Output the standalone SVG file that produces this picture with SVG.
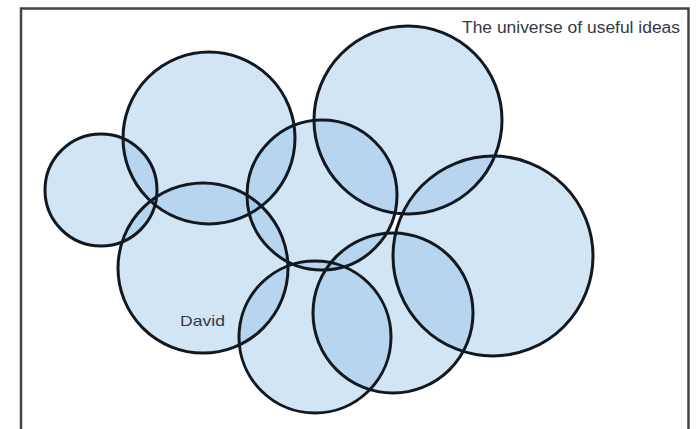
<svg xmlns="http://www.w3.org/2000/svg" width="699" height="429" viewBox="0 0 699 429">
<style>
.c{fill:#8fbfe6;fill-opacity:0.4;stroke:none}
.o{fill:none;stroke:#111820;stroke-width:3}
.t{font-family:"Liberation Sans",Arial,sans-serif;fill:#333a45}
</style>
<defs>
<circle id="c1" cx="101" cy="190" r="56"/>
<circle id="c2" cx="209" cy="138" r="86"/>
<circle id="c3" cx="408" cy="120" r="94"/>
<circle id="c4" cx="322" cy="195" r="75"/>
<circle id="c5" cx="493" cy="256" r="100"/>
<circle id="c6" cx="203" cy="268" r="85"/>
<circle id="c7" cx="315" cy="337" r="76"/>
<circle id="c8" cx="393" cy="313" r="80"/>
</defs>
<rect width="699" height="429" fill="#fff"/>
<path d="M21,432 V8.5 H688.5 V432" fill="none" stroke="#444" stroke-width="2.5"/>
<g id="n1"><use href="#c1" class="c"/></g>
<g id="n2"><use href="#c2" class="c"/></g>
<g id="n3"><use href="#c3" class="c"/></g>
<g id="n4"><use href="#c4" class="c"/></g>
<g id="n5"><use href="#c5" class="c"/></g>
<g id="n6"><use href="#c6" class="c"/></g>
<g id="n7"><use href="#c7" class="c"/></g>
<g id="n8"><use href="#c8" class="c"/></g>
<g id="outlines" class="o">
<use href="#c1"/><use href="#c2"/><use href="#c3"/><use href="#c4"/>
<use href="#c5"/><use href="#c6"/><use href="#c7"/><use href="#c8"/>
</g>
<g id="labels">
<text class="t" x="180" y="326" font-size="15" textLength="45" lengthAdjust="spacingAndGlyphs">David</text>
<text class="t" x="462" y="33" font-size="16" textLength="218" lengthAdjust="spacingAndGlyphs">The universe of useful ideas</text>
</g>
<g id="connectors"/>
</svg>
